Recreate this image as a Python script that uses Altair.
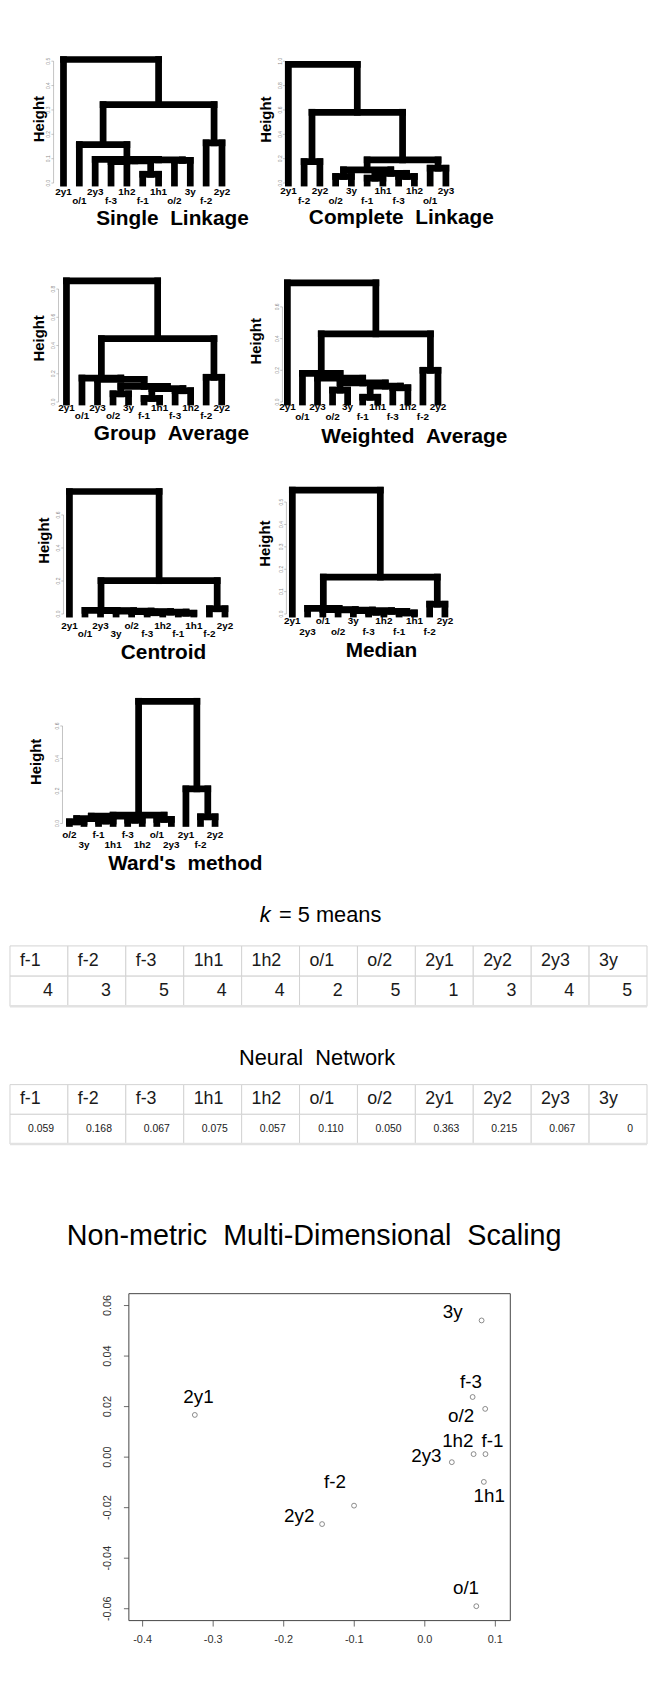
import altair as alt
import pandas as pd

FONT = "Liberation Sans"
GAP = " \u00a0"  # the wide word gap of the original titles
PAGE = 8         # page margin of the browser
FULLW = 641

# ---------------- dendrograms: leaf order + merges (left, right, height); ints = earlier merge ----------------
single_order = ["2y1", "o/1", "2y3", "f-3", "1h2", "f-1", "1h1", "o/2", "3y", "f-2", "2y2"]
single_merges = [("f-1", "1h1", 0.036), ("f-3", "1h2", 0.088), (1, 0, 0.091), ("o/2", "3y", 0.093),
                 (2, 3, 0.095), ("2y3", 4, 0.097), ("o/1", 5, 0.158), ("f-2", "2y2", 0.165),
                 (6, 7, 0.322), ("2y1", 8, 0.507)]
single_ticks = [0.0, 0.1, 0.2, 0.3, 0.4, 0.5]

complete_order = ["2y1", "f-2", "2y2", "o/2", "3y", "f-1", "1h1", "f-3", "1h2", "o/1", "2y3"]
complete_merges = [("f-1", "1h1", 0.04), ("o/2", "3y", 0.054), ("f-3", "1h2", 0.054), (0, 2, 0.08),
                   (1, 3, 0.109), ("o/1", "2y3", 0.122), ("f-2", "2y2", 0.176), (4, 5, 0.19),
                   (6, 7, 0.581), ("2y1", 8, 0.973)]
complete_ticks = [0.0, 0.2, 0.4, 0.6, 0.8, 1.0]

group_order = ["2y1", "o/1", "2y3", "o/2", "3y", "f-1", "1h1", "f-3", "1h2", "f-2", "2y2"]
group_merges = [("f-1", "1h1", 0.025), ("o/2", "3y", 0.058), ("f-3", "1h2", 0.08), (0, 2, 0.095),
                (1, 3, 0.11), ("2y3", 4, 0.16), ("o/1", 5, 0.17), ("f-2", "2y2", 0.175),
                (6, 7, 0.449), ("2y1", 8, 0.858)]
group_ticks = [0.0, 0.2, 0.4, 0.6, 0.8]

weighted_order = ["2y1", "o/1", "2y3", "o/2", "3y", "f-1", "1h1", "f-3", "1h2", "f-2", "2y2"]
weighted_merges = [("f-1", "1h1", 0.03), ("o/2", "3y", 0.075), ("f-3", "1h2", 0.09), (0, 2, 0.1),
                   (1, 3, 0.12), ("2y3", 4, 0.15), ("o/1", 5, 0.18), ("f-2", "2y2", 0.2),
                   (6, 7, 0.43), ("2y1", 8, 0.752)]
weighted_ticks = [0.0, 0.2, 0.4, 0.6]

centroid_order = ["2y1", "o/1", "2y3", "3y", "o/2", "f-3", "1h2", "f-1", "1h1", "f-2", "2y2"]
centroid_merges = [("f-1", "1h1", 0.005), ("f-3", "1h2", 0.008), (1, 0, 0.012), ("o/2", 2, 0.015),
                   ("3y", 3, 0.018), ("2y3", 4, 0.02), ("o/1", 5, 0.022), ("f-2", "2y2", 0.032),
                   (6, 7, 0.202), ("2y1", 8, 0.742)]
centroid_ticks = [0.0, 0.2, 0.4, 0.6]

median_order = ["2y1", "2y3", "o/1", "o/2", "3y", "f-3", "1h2", "f-1", "1h1", "f-2", "2y2"]
median_merges = [("f-1", "1h1", 0.005), ("f-3", "1h2", 0.008), (1, 0, 0.012), ("3y", 2, 0.015),
                 ("o/2", 3, 0.018), ("o/1", 4, 0.02), ("2y3", 5, 0.025), ("f-2", "2y2", 0.044),
                 (6, 7, 0.165), ("2y1", 8, 0.553)]
median_ticks = [0.0, 0.1, 0.2, 0.3, 0.4, 0.5]

ward_order = ["o/2", "3y", "f-1", "1h1", "f-3", "1h2", "o/1", "2y3", "2y1", "f-2", "2y2"]
ward_merges = [("o/2", "3y", 0.01), ("f-1", "1h1", 0.015), ("f-3", "1h2", 0.02), ("o/1", "2y3", 0.025),
               (0, 1, 0.03), (4, 2, 0.045), (5, 3, 0.051), ("f-2", "2y2", 0.041),
               ("2y1", 7, 0.213), (6, 8, 0.752)]
ward_ticks = [0.0, 0.2, 0.4, 0.6]

# ---------------- tables ----------------
samples = ["f-1", "f-2", "f-3", "1h1", "1h2", "o/1", "o/2", "2y1", "2y2", "2y3", "3y"]
kmeans_cluster = [4, 3, 5, 4, 4, 2, 5, 1, 3, 4, 5]
nn_value = [0.059, 0.168, 0.067, 0.075, 0.057, 0.110, 0.050, 0.363, 0.215, 0.067, 0]

# ---------------- NMDS ----------------
mds_label = ["2y1", "3y", "f-3", "o/2", "1h2", "f-1", "2y3", "1h1", "f-2", "2y2", "o/1"]
mds_x = [-0.326, 0.0805, 0.0678, 0.0856, 0.0692, 0.086, 0.0383, 0.0837, -0.1003, -0.1456, 0.073]
mds_y = [0.0167, 0.0541, 0.0238, 0.0191, 0.0012, 0.0012, -0.0020, -0.0098, -0.0192, -0.0265, -0.0590]
mds_label_x = [-0.3208, 0.0397, 0.0654, 0.0514, 0.0468, 0.0959, 0.0022, 0.0913, -0.1274, -0.178, 0.0584]
mds_label_y = [0.0238, 0.0573, 0.0297, 0.0164, 0.0064, 0.0064, 0.0003, -0.0154, -0.0098, -0.0235, -0.052]
mds_xticks = [-0.4, -0.3, -0.2, -0.1, 0.0, 0.1]
mds_yticks = [-0.06, -0.04, -0.02, 0.0, 0.02, 0.04, 0.06]
mds_xlim = [-0.4195, 0.1212]
mds_ylim = [-0.0647, 0.0647]


def segments(order, merges):
    nodes, rows = [], []

    def pos(c):
        return (float(order.index(c)), 0.0) if isinstance(c, str) else nodes[c]

    for a, b, h in merges:
        (xa, ha), (xb, hb) = pos(a), pos(b)
        rows.append({"x": xa, "y": ha, "x2": xa, "y2": h})
        rows.append({"x": xb, "y": hb, "x2": xb, "y2": h})
        rows.append({"x": xa, "y": h, "x2": xb, "y2": h})
        nodes.append(((xa + xb) / 2, h))
    return pd.DataFrame(rows)


def X(field, xs):
    return alt.X(field, scale=xs, axis=None)


def Y(field, ys):
    return alt.Y(field, scale=ys, axis=None)


def dendrogram(order, merges, ticks, title, g, H):
    """One dendrogram panel; its scales map into its own pixel window of the row."""
    seg = segments(order, merges)
    ppl = g["ppl"]
    left = g["axis"] - PAGE
    x0 = (g["axis"] - g["leaf0"]) / ppl
    xs = alt.Scale(domain=[x0, x0 + g["W"] / ppl], range=[left, left + g["W"]], nice=False, zero=False)
    ys = alt.Scale(domain=[0, g["ytop"]], range=[H, 0], nice=False, zero=False)

    lines = alt.Chart(seg).mark_rule(color="black", strokeWidth=6.8, strokeCap="square").encode(
        x=X("x:Q", xs), x2="x2:Q", y=Y("y:Q", ys), y2="y2:Q")

    # R-style axis: line from first to last tick, short ticks, tiny rotated labels
    axline = alt.Chart(pd.DataFrame({"pos": [x0], "lo": [ticks[0]], "hi": [ticks[-1]]})).mark_rule(
        color="#9c9c9c", strokeWidth=0.6).encode(x=X("pos:Q", xs), y=Y("lo:Q", ys), y2="hi:Q")
    tdf = pd.DataFrame({"v": ticks, "pos": x0, "end": x0 - 2.2 / ppl, "lx": x0 - 5.5 / ppl,
                        "txt": [f"{t:.1f}" for t in ticks]})
    tick_marks = alt.Chart(tdf).mark_rule(color="#9c9c9c", strokeWidth=0.6).encode(
        x=X("pos:Q", xs), x2="end:Q", y=Y("v:Q", ys))
    tick_labels = alt.Chart(tdf).mark_text(font=FONT, fontSize=5, color="#8c8c8c", angle=270,
                                           align="center", baseline="middle").encode(
        x=X("lx:Q", xs), y=Y("v:Q", ys), text="txt:N")
    bottom = g["top"] + H
    hy = (bottom - g["hy"]) / H * g["ytop"]
    ytitle = alt.Chart(pd.DataFrame({"t": ["Height"], "x": [x0 - g["hgap"] / ppl], "y": [hy]})).mark_text(
        font=FONT, fontSize=15, fontWeight="bold", color="black", angle=270,
        align="center", baseline="middle").encode(x=X("x:Q", xs), y=Y("y:Q", ys), text="t:N")

    leaves = pd.DataFrame({"name": order, "i": list(range(len(order))), "base": 0.0})
    leaves["row"] = leaves["i"] % 2
    layers = [axline, tick_marks, tick_labels, ytitle, lines]
    for r, dy in ((0, g["dy1"]), (1, g["dy2"])):
        layers.append(alt.Chart(leaves).transform_filter(f"datum.row == {r}").mark_text(
            font=FONT, fontSize=10, fontWeight="bold", color="black", baseline="middle", dy=dy).encode(
            x=X("i:Q", xs), y=Y("base:Q", ys), text="name:N"))
    layers.append(alt.Chart(pd.DataFrame({"t": [title]})).mark_text(
        font=FONT, fontSize=21, fontWeight="bold", color="black", baseline="middle", align="center").encode(
        x=alt.value(g["tx"] - PAGE), y=alt.value(g["ty"] - g["top"]), text="t:N"))
    return alt.layer(*layers)


def row_chart(panels, H):
    if len(panels) == 1:
        return panels[0].properties(width=FULLW, height=H)
    return alt.layer(*panels).resolve_scale(x="independent", y="independent").properties(width=FULLW, height=H)


def table(values_text, val_size, val_dx, W, H, title_parts):
    n = len(samples)
    cells = pd.DataFrame([{"c0": i, "c1": i + 1, "r0": r, "r1": r + 1} for r in (0, 1) for i in range(n)])
    xs = alt.Scale(domain=[0, n], nice=False, zero=False)
    ys = alt.Scale(domain=[0, 2], nice=False, zero=False, reverse=True)
    grid = alt.Chart(cells).mark_rect(fill="white", stroke="#d2d2d2", strokeWidth=1).encode(
        x=X("c0:Q", xs), x2="c1:Q", y=Y("r0:Q", ys), y2="r1:Q")
    edge = alt.Chart(pd.DataFrame({"a": [0], "b": [n], "r": [2]})).mark_rule(
        color="#e2e2e2", strokeWidth=2.5).encode(x=X("a:Q", xs), x2="b:Q", y=Y("r:Q", ys))
    head = pd.DataFrame({"name": samples, "left": list(range(n)), "mid": 0.5})
    vals = pd.DataFrame({"txt": values_text, "right": list(range(1, n + 1)), "mid": 1.5})
    htext = alt.Chart(head).mark_text(font=FONT, fontSize=18, color="#1a1a1a", align="left",
                                      baseline="middle", dx=10).encode(
        x=X("left:Q", xs), y=Y("mid:Q", ys), text="name:N")
    vtext = alt.Chart(vals).mark_text(font=FONT, fontSize=val_size, color="#1a1a1a", align="right",
                                      baseline="middle", dx=val_dx).encode(
        x=X("right:Q", xs), y=Y("mid:Q", ys), text="txt:N")
    layers = [grid, edge, htext, vtext]
    for txt, xp, yp, align, style in title_parts:
        layers.append(alt.Chart(pd.DataFrame({"t": [txt]})).mark_text(
            font=FONT, fontSize=22, fontStyle=style, align=align, baseline="middle", color="black").encode(
            x=alt.value(xp), y=alt.value(yp), text="t:N"))
    return alt.layer(*layers).properties(width=W, height=H)


def mds_chart(left_px, W, H, title_x, title_y):
    df = pd.DataFrame({"lab": mds_label, "x": mds_x, "y": mds_y, "lx": mds_label_x, "ly": mds_label_y})
    left = left_px - PAGE
    xs = alt.Scale(domain=mds_xlim, range=[left, left + W], nice=False, zero=False)
    ys = alt.Scale(domain=mds_ylim, range=[H, 0], nice=False, zero=False)
    ppx = W / (mds_xlim[1] - mds_xlim[0])
    ppy = H / (mds_ylim[1] - mds_ylim[0])

    frame = alt.Chart(pd.DataFrame({"x0": [mds_xlim[0]], "x1": [mds_xlim[1]],
                                    "y0": [mds_ylim[0]], "y1": [mds_ylim[1]]})).mark_rect(
        fill="transparent", stroke="#444", strokeWidth=1).encode(
        x=X("x0:Q", xs), x2="x1:Q", y=Y("y0:Q", ys), y2="y1:Q")
    ydf = pd.DataFrame({"v": mds_yticks, "pos": mds_xlim[0], "end": mds_xlim[0] - 5 / ppx,
                        "lx": mds_xlim[0] - 21 / ppx, "txt": [f"{t:.2f}" for t in mds_yticks]})
    xdf = pd.DataFrame({"v": mds_xticks, "pos": mds_ylim[0], "end": mds_ylim[0] - 6 / ppy,
                        "ly": mds_ylim[0] - 20 / ppy, "txt": [f"{t:.1f}" for t in mds_xticks]})
    yticks = alt.Chart(ydf).mark_rule(color="#444", strokeWidth=0.8).encode(
        x=X("pos:Q", xs), x2="end:Q", y=Y("v:Q", ys))
    ylabels = alt.Chart(ydf).mark_text(font=FONT, fontSize=11, color="#333", angle=270,
                                       align="center", baseline="middle").encode(
        x=X("lx:Q", xs), y=Y("v:Q", ys), text="txt:N")
    xticks = alt.Chart(xdf).mark_rule(color="#444", strokeWidth=0.8).encode(
        x=X("v:Q", xs), y=Y("pos:Q", ys), y2="end:Q")
    xlabels = alt.Chart(xdf).mark_text(font=FONT, fontSize=11, color="#333",
                                       align="center", baseline="middle").encode(
        x=X("v:Q", xs), y=Y("ly:Q", ys), text="txt:N")
    pts = alt.Chart(df).mark_point(shape="circle", filled=False, size=24, color="#333",
                                   strokeWidth=0.8).encode(x=X("x:Q", xs), y=Y("y:Q", ys))
    labels = alt.Chart(df).mark_text(font=FONT, fontSize=19, color="black", baseline="middle").encode(
        x=X("lx:Q", xs), y=Y("ly:Q", ys), text="lab:N")
    title = alt.Chart(pd.DataFrame({"t": ["Non-metric" + GAP + "Multi-Dimensional" + GAP + "Scaling"]})).mark_text(
        font=FONT, fontSize=29, color="black", baseline="middle", align="center").encode(
        x=alt.value(title_x - PAGE), y=alt.value(title_y), text="t:N")
    return alt.layer(frame, yticks, ylabels, xticks, xlabels, pts, labels, title).properties(
        width=FULLW, height=H)


def spacer(h):
    return alt.Chart(pd.DataFrame({"v": [0]})).mark_point(opacity=0, size=1).encode(
        x=alt.X("v:Q", axis=None, scale=alt.Scale(domain=[0, 1])),
        y=alt.Y("v:Q", axis=None, scale=alt.Scale(domain=[0, 1]))).properties(width=1, height=h)


# panel geometry (page pixels)
G = {
    "single": dict(axis=52, leaf0=62, ppl=16.0, W=200, top=54, ytop=0.5, tx=172, ty=213, dy1=8.7, dy2=18, hgap=15, hy=112.5),
    "complete": dict(axis=285.7, leaf0=289, ppl=15.9, W=200, top=54, ytop=1.0, tx=403, ty=212, dy1=8.3, dy2=18.3, hgap=19, hy=113),
    "group": dict(axis=57, leaf0=65, ppl=15.67, W=200, top=283.3, ytop=0.8, tx=171, ty=430, dy1=6, dy2=14.4, hgap=20, hy=333),
    "weighted": dict(axis=283, leaf0=288, ppl=15.2, W=190, top=283.3, ytop=0.7125, tx=416, ty=433, dy1=4.7, dy2=14.7, hgap=27, hy=336),
    "centroid": dict(axis=62, leaf0=68, ppl=15.7, W=200, top=497, ytop=0.684, tx=163, ty=650, dy1=12.3, dy2=19.7, hgap=20, hy=537),
    "median": dict(axis=287, leaf0=293, ppl=15.4, W=190, top=497, ytop=0.5044, tx=383, ty=648, dy1=6.7, dy2=18.3, hgap=22, hy=540),
    "ward": dict(axis=61, leaf0=68, ppl=14.7, W=200, top=723.3, ytop=0.6, tx=185, ty=863, dy1=11.7, dy2=21.7, hgap=27, hy=759.5),
}

ROW1_H, ROW2_H, ROW3_H, ROW4_H = 123, 114, 114, 98.4

row1 = row_chart([
    dendrogram(single_order, single_merges, single_ticks, "Single" + GAP + "Linkage", G["single"], ROW1_H),
    dendrogram(complete_order, complete_merges, complete_ticks, "Complete" + GAP + "Linkage", G["complete"], ROW1_H),
], ROW1_H)
row2 = row_chart([
    dendrogram(group_order, group_merges, group_ticks, "Group" + GAP + "Average", G["group"], ROW2_H),
    dendrogram(weighted_order, weighted_merges, weighted_ticks, "Weighted" + GAP + "Average", G["weighted"], ROW2_H),
], ROW2_H)
row3 = row_chart([
    dendrogram(centroid_order, centroid_merges, centroid_ticks, "Centroid", G["centroid"], ROW3_H),
    dendrogram(median_order, median_merges, median_ticks, "Median", G["median"], ROW3_H),
], ROW3_H)
row4 = row_chart([
    dendrogram(ward_order, ward_merges, ward_ticks, "Ward's" + GAP + "method", G["ward"], ROW4_H),
], ROW4_H)

TW = 643
t_kmeans = table([str(v) for v in kmeans_cluster], 18, -15, TW, 61,
                 [("k", 263, -31, "right", "italic"), ("= 5 means", 271.5, -31, "left", "normal")])
t_nn = table([f"{v:.3f}" if v else "0" for v in nn_value], 10.5, -14, TW, 60,
             [("Neural" + GAP + "Network", 310, -26.6, "center", "normal")])

mds = mds_chart(128, 385, 330, 315, -58)

blocks = [
    (row1, 54, ROW1_H),
    (row2, 283.3, ROW2_H),
    (row3, 497, ROW3_H),
    (row4, 723.3, ROW4_H),
    (t_kmeans, 944, 61),
    (t_nn, 1083.3, 60),
    (mds, 1294, 330),
]

parts, cursor = [], PAGE
for ch, top, h in blocks:
    if top - cursor > 0.01:
        parts.append(spacer(top - cursor))
    parts.append(ch)
    cursor = top + h

chart = alt.vconcat(*parts, spacing=0, bounds="flush").properties(padding=0).configure(
    font=FONT).configure_view(strokeWidth=0, stroke="transparent")

chart.save("out.html", embed_options={"renderer": "svg", "actions": False})
